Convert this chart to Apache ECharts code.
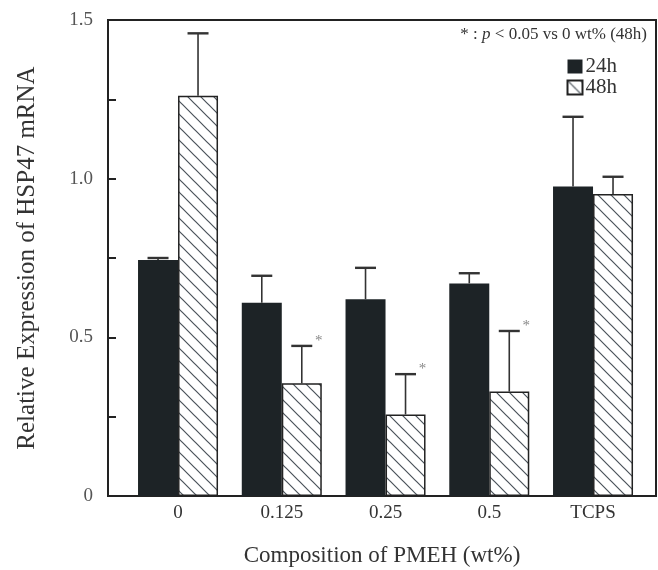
<!DOCTYPE html>
<html>
<head>
<meta charset="utf-8">
<script src="https://cdn.jsdelivr.net/npm/echarts@6/dist/echarts.min.js"></script>
<style>
html, body { margin: 0; padding: 0; background: #fff; }
#chart { width: 658px; height: 570px; }
</style>
</head>
<body>
<div id="chart"></div>
<script>
// data
var categories = ['0', '0.125', '0.25', '0.5', 'TCPS'];
var mean24 = [0.744, 0.609, 0.620, 0.670, 0.975];
var err24 = [0.006, 0.085, 0.099, 0.032, 0.220];
var mean48 = [1.261, 0.355, 0.257, 0.329, 0.952];
var err48 = [0.197, 0.118, 0.127, 0.191, 0.054];
var star48 = [0, 1, 1, 1, 0];
var yLabels = [0, 0.5, 1.0, 1.5];

var serif = '"Liberation Serif", "DejaVu Serif", serif';
var ink = '#222';

// hatch pattern for the 48h bars
function hatch() {
  var c = document.createElement('canvas');
  c.width = 13; c.height = 13;
  var ctx = c.getContext('2d');
  ctx.fillStyle = '#fff';
  ctx.fillRect(0, 0, 13, 13);
  ctx.strokeStyle = '#4a525a';
  ctx.lineWidth = 1.2;
  ctx.beginPath();
  ctx.moveTo(-1, -1); ctx.lineTo(14, 14);
  ctx.moveTo(-1, 12); ctx.lineTo(1, 14);
  ctx.moveTo(12, -1); ctx.lineTo(14, 1);
  ctx.stroke();
  return c;
}
var hatchFill = { image: hatch(), repeat: 'repeat' };

function pairs(vals) {
  return vals.map(function (v, i) { return [i, v]; });
}
function errData(means, errs, side, stars) {
  return means.map(function (m, i) { return [i, m, errs[i], side, stars ? stars[i] : 0]; });
}

function renderErr(params, api) {
  var x = api.value(0), m = api.value(1), e = api.value(2), side = api.value(3);
  var base = api.coord([x, m]);
  var top = api.coord([x, m + e]);
  var cx = base[0] + side * 20;
  var kids = [
    { type: 'line', shape: { x1: cx, y1: base[1], x2: cx, y2: top[1] }, style: { stroke: '#333', lineWidth: 1.6 } },
    { type: 'line', shape: { x1: cx - 10.5, y1: top[1], x2: cx + 10.5, y2: top[1] }, style: { stroke: '#333', lineWidth: 2.4 } }
  ];
  if (api.value(4)) {
    kids.push({ type: 'text', x: cx + 17, y: top[1] - 5,
      style: { text: '*', fill: '#888', font: '15px ' + serif, align: 'center', verticalAlign: 'middle' } });
  }
  return { type: 'group', children: kids };
}

var chart = echarts.init(document.getElementById('chart'));
chart.setOption({
  animation: false,
  backgroundColor: '#fff',
  textStyle: { fontFamily: serif, color: ink },
  grid: { left: 108, right: 2, top: 20, bottom: 74, outerBoundsMode: 'none', containLabel: false,
    show: true, borderColor: ink, borderWidth: 2, backgroundColor: 'transparent' },
  title: {
    text: '* : {i|p} < 0.05 vs 0 wt% (48h)',
    right: 6, top: 21,
    textStyle: { fontFamily: serif, fontSize: 17, fontWeight: 'normal', color: '#333',
      rich: { i: { fontFamily: serif, fontSize: 17, fontStyle: 'italic', color: '#333' } } }
  },
  legend: {
    orient: 'vertical', right: 36, top: 51, itemGap: 0,
    itemWidth: 15, itemHeight: 14, icon: 'rect',
    textStyle: { fontFamily: serif, fontSize: 21, color: '#333', padding: [0, 0, 0, -2] },
    data: ['24h', '48h']
  },
  xAxis: {
    type: 'value', min: -0.675, max: 4.607,
    name: 'Composition of PMEH (wt%)', nameLocation: 'middle', nameGap: 48,
    nameTextStyle: { fontFamily: serif, fontSize: 23, color: '#333' },
    axisLine: { show: true, onZero: false, lineStyle: { color: ink, width: 2 } },
    axisTick: { show: false },
    splitLine: { show: false },
    axisLabel: { customValues: [0, 1, 2, 3, 4], formatter: function (v) { return categories[v]; },
      fontFamily: serif, fontSize: 19, color: '#333', margin: 8 }
  },
  yAxis: {
    type: 'value', min: 0, max: 1.5, interval: 0.25,
    name: 'Relative Expression of HSP47 mRNA', nameLocation: 'middle', nameGap: 68, nameRotate: 90,
    nameTextStyle: { fontFamily: serif, fontSize: 25, color: '#333' },
    axisLine: { show: true, onZero: false, lineStyle: { color: ink, width: 2 } },
    axisTick: { show: true, inside: true, length: 8, lineStyle: { color: ink, width: 2 } },
    splitLine: { show: false },
    axisLabel: {
      fontFamily: serif, fontSize: 19, color: '#555', margin: 15,
      formatter: function (v) {
        for (var i = 0; i < yLabels.length; i++) {
          if (Math.abs(yLabels[i] - v) < 1e-6) return v === 0 ? '0' : v.toFixed(1);
        }
        return '';
      }
    }
  },
  series: [
    { name: '24h', type: 'bar', barWidth: 40, barGap: '0%', data: pairs(mean24),
      itemStyle: { color: '#1d2326' } },
    { name: '48h', type: 'bar', barWidth: 40, barGap: '0%', data: pairs(mean48),
      itemStyle: { color: hatchFill, borderColor: ink, borderWidth: 1.5 } },
    { type: 'custom', renderItem: renderErr, data: errData(mean24, err24, -1), z: 5,
      encode: { x: 0, y: 1 } },
    { type: 'custom', renderItem: renderErr, data: errData(mean48, err48, 1, star48), z: 5,
      encode: { x: 0, y: 1 } }
  ]
});
</script>
</body>
</html>
